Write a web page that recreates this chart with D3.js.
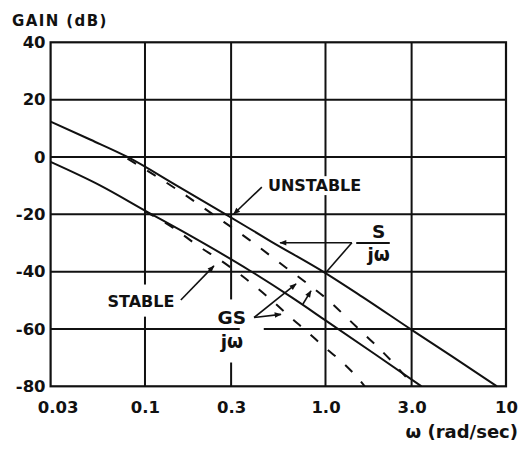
<!DOCTYPE html>
<html>
<head>
<meta charset="utf-8">
<script src="https://cdn.jsdelivr.net/npm/d3@7"></script>
<style>
body { margin: 0; background: #fff; }
svg text { font-family: 'DejaVu Sans', sans-serif; font-weight: bold; fill: #111; }
</style>
</head>
<body>
<div id="chart"></div>
<script>
// axis ticks
const xTicks = [0.03, 0.1, 0.3, 1.0, 3.0, 10];
const xTickLabels = ['0.03', '0.1', '0.3', '1.0', '3.0', '10'];
const yTicks = [40, 20, 0, -20, -40, -60, -80];

// G, unstable (solid, upper)
const unstableW = [0.03, 0.05, 0.08, 0.15, 0.28, 0.5, 1.0, 1.6, 3.0, 5.0, 8.9];
const unstableDb = [12.3, 6.0, 0, -10, -20, -29.5, -40.5, -48.8, -60.3, -69.5, -80];

// G, stable (solid, lower)
const stableW = [0.03, 0.056, 0.104, 0.16, 0.38, 0.65, 1.0, 1.9, 3.4];
const stableDb = [-1.7, -9.8, -19.3, -25.8, -39.6, -49, -57, -69, -80];

// S/jw applied (dashed)
const unstableSjwW = [0.08, 0.15, 0.24, 0.38, 0.61, 0.81, 1.06, 1.31, 1.65, 2.0, 3.1];
const unstableSjwDb = [-0.6, -11.3, -20.2, -29, -38.8, -44.6, -50.5, -56, -62, -67, -80];
const stableSjwW = [0.1, 0.14, 0.2, 0.26, 0.34, 0.42, 0.51, 0.65, 0.79, 1.0, 1.23, 1.52, 1.65];
const stableSjwDb = [-19, -24.3, -31.3, -35.9, -41.2, -45.8, -50.3, -56.3, -60.9, -66.7, -71.4, -77.3, -80];

const svgWidth = 520, svgHeight = 449;
const margin = { left: 50.6, right: 14, top: 42.3, bottom: 62.7 };
const width = svgWidth - margin.left - margin.right;
const height = svgHeight - margin.top - margin.bottom;

function translate(x, y) {
    return 'translate(' + x + ',' + y + ')';
}

const svg = d3.select('#chart').append('svg')
    .attr('width', svgWidth)
    .attr('height', svgHeight);

const defs = svg.append('defs');
defs.append('marker')
    .attr('id', 'arrow')
    .attr('viewBox', '0 0 10 10')
    .attr('refX', 9).attr('refY', 5)
    .attr('markerWidth', 9).attr('markerHeight', 7)
    .attr('markerUnits', 'userSpaceOnUse')
    .attr('orient', 'auto')
    .append('path').attr('d', 'M0,1 L10,5 L0,9 Z').attr('fill', '#111');

const g = svg.append('g').attr('transform', translate(margin.left, margin.top));

const x = d3.scaleLog().domain([0.03, 10]).range([0, width]);
const y = d3.scaleLinear().domain([-80, 40]).range([height, 0]);

// grid
g.selectAll('.vgrid').data(xTicks.slice(1, -1)).enter()
    .append('line')
    .attr('class', 'vgrid')
    .attr('x1', d => x(d)).attr('x2', d => x(d))
    .attr('y1', 0).attr('y2', height)
    .attr('stroke', '#111').attr('stroke-width', 2);
g.selectAll('.hgrid').data(yTicks.slice(1, -1)).enter()
    .append('line')
    .attr('class', 'hgrid')
    .attr('x1', 0).attr('x2', width)
    .attr('y1', d => y(d)).attr('y2', d => y(d))
    .attr('stroke', '#111').attr('stroke-width', 2);

// axes
const yAxis = g.append('g').call(d3.axisLeft(y).tickValues(yTicks).tickSize(0).tickPadding(5).tickFormat(d => String(d)));
yAxis.select('.domain').remove();
yAxis.selectAll('text').style('font-size', '16.5px').attr('fill', '#111');

const xAxis = g.append('g').attr('transform', translate(0, height))
    .call(d3.axisBottom(x).tickValues(xTicks).tickSize(0).tickPadding(15).tickFormat((d, i) => xTickLabels[i]));
xAxis.select('.domain').remove();
xAxis.selectAll('text').style('font-size', '16.5px').attr('fill', '#111')
    .attr('dx', (d, i) => i === 0 ? 7 : (i === xTicks.length - 1 ? 0 : 0));

// curves
const line = d3.line().x(d => x(d[0])).y(d => y(d[1])).curve(d3.curveMonotoneX);
const curves = [
    { w: unstableW, db: unstableDb, dash: null },
    { w: stableW, db: stableDb, dash: null },
    { w: unstableSjwW, db: unstableSjwDb, dash: '10,13' },
    { w: stableSjwW, db: stableSjwDb, dash: '10,13' }
];
g.selectAll('.curve').data(curves).enter()
    .append('path')
    .attr('class', 'curve')
    .attr('d', c => line(c.w.map((w, i) => [w, c.db[i]])))
    .attr('fill', 'none')
    .attr('stroke', '#111')
    .attr('stroke-width', 2)
    .attr('stroke-dasharray', c => c.dash);

// label backgrounds (hide grid behind text)
const boxes = [
    [0.47, 1.58, -6.7, -13.3],   // UNSTABLE
    [0.072, 0.18, -44.5, -55.7], // STABLE
    [0.21, 0.455, -49.7, -71.7]  // GS/jw
];
g.selectAll('.bg').data(boxes).enter()
    .append('rect')
    .attr('x', d => x(d[0])).attr('width', d => x(d[1]) - x(d[0]))
    .attr('y', d => y(d[2])).attr('height', d => y(d[3]) - y(d[2]))
    .attr('fill', '#fff');

// labels
function label(text, w, db, size, anchor) {
    return g.append('text')
        .attr('x', x(w)).attr('y', y(db)).attr('dy', '0.36em')
        .attr('text-anchor', anchor || 'middle')
        .style('font-size', size + 'px')
        .text(text);
}
label('UNSTABLE', 0.48, -10, 16, 'start');
label('STABLE', 0.095, -50.5, 16);
label('GS', 0.303, -56, 18.5);
label('jω', 0.303, -64.3, 18.5);
label('S', 1.97, -26, 18.5);
label('jω', 1.97, -34, 18.5);

// fraction bars
const bars = [[0.205, 0.335, -60], [1.48, 2.27, -30]];
g.selectAll('.fbar').data(bars).enter()
    .append('line')
    .attr('x1', d => x(d[0])).attr('x2', d => x(d[1]))
    .attr('y1', d => y(d[2])).attr('y2', d => y(d[2]))
    .attr('stroke', '#111').attr('stroke-width', 2);

// annotation lines [from, to, arrow]
const notes = [
    [[0.444, -10.5], [0.31, -19.9], true],
    [[0.158, -49.9], [0.241, -38], true],
    [[1.40, -29.9], [0.56, -29.9], true],
    [[1.40, -29.9], [1.0, -40.5], false],
    [[0.402, -56], [0.687, -44.3], true],
    [[0.402, -56], [0.567, -54.9], true],
    [[0.75, -51.3], [0.831, -46.7], true]
];
g.selectAll('.note').data(notes).enter()
    .append('line')
    .attr('x1', d => x(d[0][0])).attr('y1', d => y(d[0][1]))
    .attr('x2', d => x(d[1][0])).attr('y2', d => y(d[1][1]))
    .attr('stroke', '#111').attr('stroke-width', 1.6)
    .attr('marker-end', d => d[2] ? 'url(#arrow)' : null);

// frame
g.append('rect')
    .attr('width', width).attr('height', height)
    .attr('fill', 'none').attr('stroke', '#111').attr('stroke-width', 2.2);

// titles
svg.append('text').attr('x', 12).attr('y', 25.5)
    .style('font-size', '15px').style('letter-spacing', '1.4px')
    .text('GAIN (dB)');
svg.append('text').attr('x', 518).attr('y', 438)
    .attr('text-anchor', 'end')
    .style('font-size', '18px')
    .text('ω (rad/sec)');
</script>
</body>
</html>
